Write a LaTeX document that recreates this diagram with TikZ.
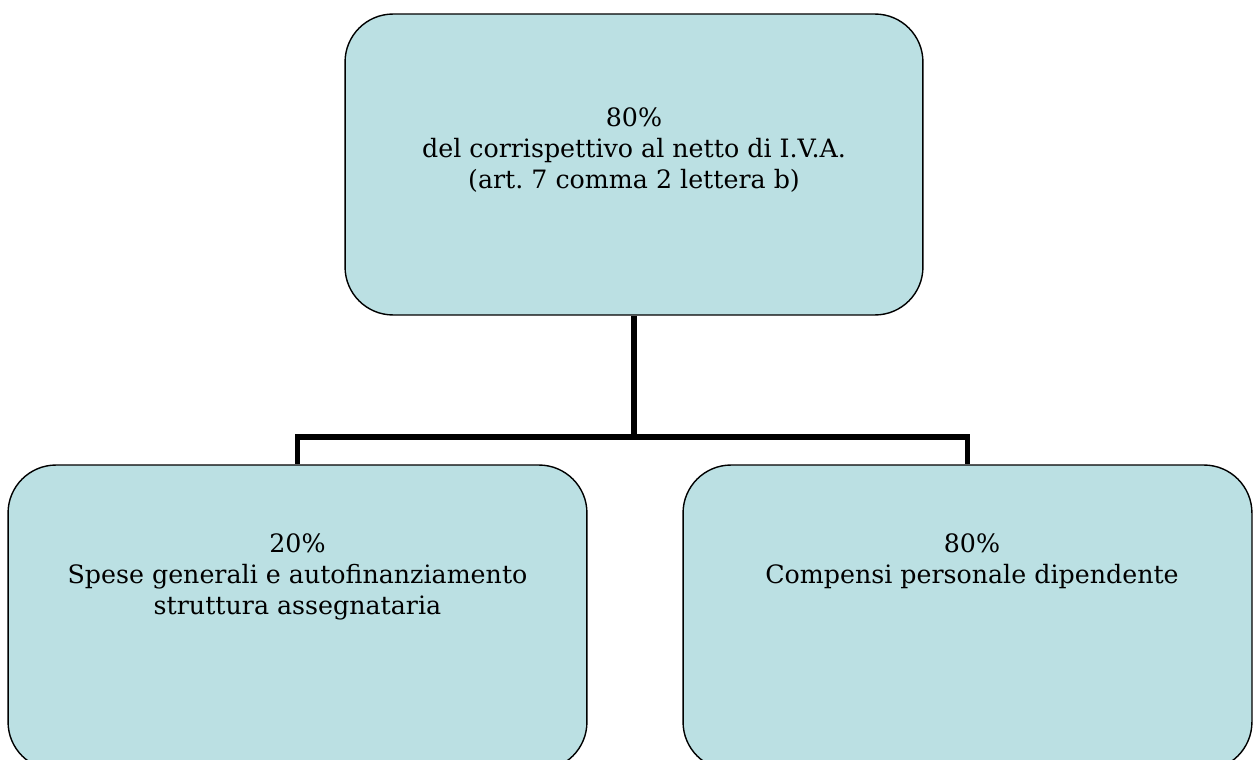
\documentclass[tikz,border=0pt]{standalone}
\usepackage{fontspec}
\setmainfont{DejaVu Serif}
\definecolor{boxfill}{RGB}{187,224,227}
\begin{document}
\begin{tikzpicture}
		[x=0.02cm, y=-0.02cm,
		box/.style={draw, fill=boxfill, line width=0.8pt,
			rounded corners=0.96cm, inner sep=0pt},
		caption/.style={align=center,
			font=\fontsize{14.4}{17.6}\selectfont},
		link/.style={line width=3pt, line join=miter}]
		\useasboundingbox (0,0) rectangle (1255,760);
		\node[box, minimum width=11.56cm, minimum height=6.02cm] (top) at (634,164.5) {};
		\node[box, minimum width=11.58cm, minimum height=6.1cm] (left) at (297.5,617.5) {};
		\node[box, minimum width=11.38cm, minimum height=6.1cm] (right) at (967.5,617.5) {};
		\node[caption] (toptext) at (634,150) {80\%\\del corrispettivo al netto di I.V.A.\\(art.\ 7 comma 2 lettera b)};
		\node[caption] (lefttext) at (297.5,577) {20\%\\Spese generali e autofinanziamento\\struttura assegnataria};
		\node[caption] (righttext) at (972,561) {80\%\\Compensi personale dipendente};
		\coordinate (split) at (634,437);
		\draw[link] (top.south) -- (split);
		\draw[link] (split) -| (left.north);
		\draw[link] (split) -| (right.north);
	\end{tikzpicture}
\end{document}
